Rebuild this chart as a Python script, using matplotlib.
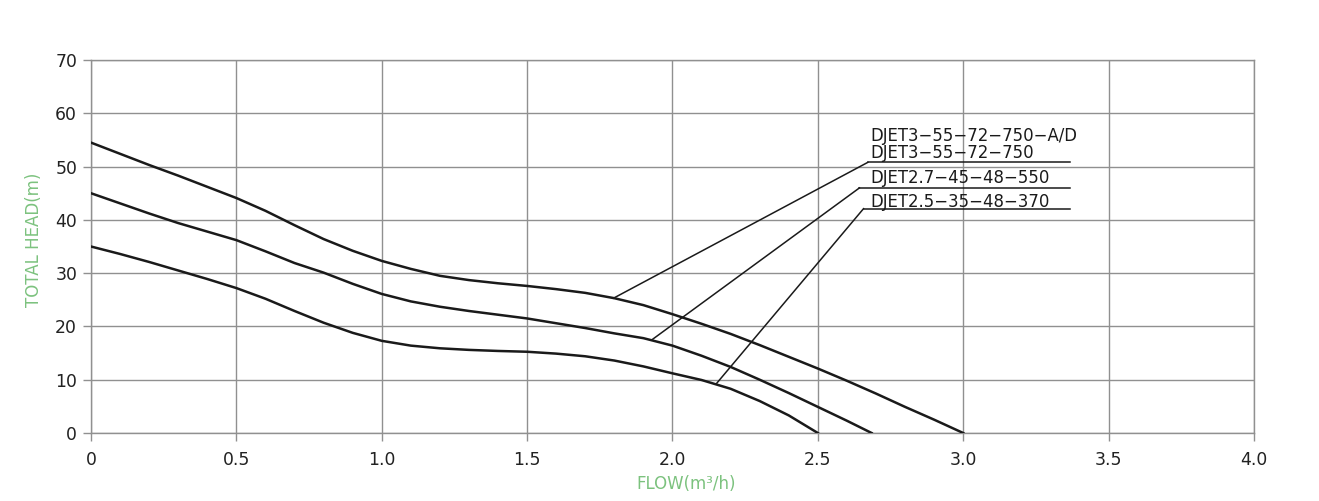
import matplotlib
matplotlib.use("Agg")
from matplotlib import pyplot as plt

plt.rcParams['font.family'] = ['DejaVu Sans']

# curvas (flujo m3/h, altura m)
flow_a = [0, 0.1, 0.2, 0.3, 0.4, 0.5, 0.6, 0.7, 0.8, 0.9, 1.0, 1.1, 1.2, 1.3, 1.4, 1.5,
          1.6, 1.7, 1.8, 1.9, 2.0, 2.1, 2.2, 2.3, 2.4, 2.5, 2.6, 2.7, 2.8, 2.9, 3.0]
head_a = [54.5, 52.4, 50.3, 48.3, 46.2, 44.1, 41.7, 39.0, 36.4, 34.2, 32.3, 30.8, 29.5, 28.7,
          28.1, 27.6, 27.0, 26.3, 25.3, 24.0, 22.3, 20.5, 18.6, 16.5, 14.3, 12.1, 9.8, 7.4,
          4.9, 2.5, 0]

flow_b = [0, 0.1, 0.2, 0.3, 0.4, 0.5, 0.6, 0.7, 0.8, 0.9, 1.0, 1.1, 1.2, 1.3, 1.4, 1.5,
          1.6, 1.7, 1.8, 1.9, 2.0, 2.1, 2.2, 2.3, 2.4, 2.5, 2.6, 2.685]
head_b = [45, 43.1, 41.2, 39.4, 37.8, 36.2, 34.1, 31.9, 30.1, 28.0, 26.1, 24.7, 23.7, 22.9,
          22.2, 21.5, 20.6, 19.7, 18.7, 17.8, 16.4, 14.5, 12.4, 10.0, 7.5, 4.9, 2.3, 0]

flow_c = [0, 0.1, 0.2, 0.3, 0.4, 0.5, 0.6, 0.7, 0.8, 0.9, 1.0, 1.1, 1.2, 1.3, 1.4, 1.5,
          1.6, 1.7, 1.8, 1.9, 2.0, 2.1, 2.2, 2.3, 2.4, 2.5]
head_c = [35, 33.6, 32.1, 30.5, 28.9, 27.2, 25.2, 22.9, 20.7, 18.8, 17.3, 16.4, 15.9, 15.6,
          15.4, 15.25, 14.9, 14.4, 13.6, 12.5, 11.2, 9.95, 8.3, 6.0, 3.3, 0]

modelos = ["DJET3\u221255\u221272\u2212750\u2212A/D", "DJET3\u221255\u221272\u2212750",
           "DJET2.7\u221245\u221248\u2212550", "DJET2.5\u221235\u221248\u2212370"]
# punto de la curva donde arranca cada linea, y donde empieza el subrayado
punto = [(1.797, 25.3), (1.928, 17.45), (2.152, 9.33)]
subrayado = [(2.672, 50.8), (2.643, 46.0), (2.657, 42.1)]
fin_subrayado = 3.367
ybase = [54.85, 51.6, 46.97, 42.4]

xticks = [0, 0.5, 1.0, 1.5, 2.0, 2.5, 3.0, 3.5, 4.0]
xlabels = ["0", "0.5", "1.0", "1.5", "2.0", "2.5", "3.0", "3.5", "4.0"]
yticks = [0, 10, 20, 30, 40, 50, 60, 70]

gris = "#909090"
verde = "#7cc27e"
negro = "#1a1a1a"

fig = plt.figure(figsize=(13.19, 5.01), dpi=100)
ax = fig.add_axes([0.069, 0.1357, 0.8817, 0.7445])

for f, h in [(flow_a, head_a), (flow_b, head_b), (flow_c, head_c)]:
    ax.plot(f, h, color=negro, lw=1.8, zorder=3, solid_joinstyle="round")

for (x0, y0), (x1, y1) in zip(punto, subrayado):
    ax.plot([x0, x1], [y0, y1], color=negro, lw=1.1, zorder=3)
    ax.plot([x1, fin_subrayado], [y1, y1], color=negro, lw=1.1, zorder=3)

for m, yb in zip(modelos, ybase):
    ax.text(2.679, yb, m, fontsize=11.9, color=negro, va="baseline", ha="left")

ax.set_xlim(0, 4.0)
ax.set_ylim(0, 70)
ax.set_xticks(xticks)
ax.set_xticklabels(xlabels)
ax.set_yticks(yticks)
ax.grid(True, color=gris, lw=1.0)
ax.set_axisbelow(True)
for s in ax.spines.values():
    s.set_color(gris)
    s.set_linewidth(1.0)
ax.tick_params(colors=gris, labelcolor="#222222", labelsize=12.4, length=6, width=1.0)
ax.tick_params(axis="x", pad=7)
ax.tick_params(axis="y", pad=4)

ax.set_xlabel("FLOW(m\u00b3/h)", color=verde, fontsize=12)
ax.xaxis.label.set_va("center")
ax.xaxis.set_label_coords(0.512, -0.137)
ax.set_ylabel("TOTAL HEAD(m)", color=verde, fontsize=12)
ax.yaxis.label.set_va("center")
ax.yaxis.set_label_coords(-0.0488, 0.517)

plt.savefig("out.png", dpi=100)
